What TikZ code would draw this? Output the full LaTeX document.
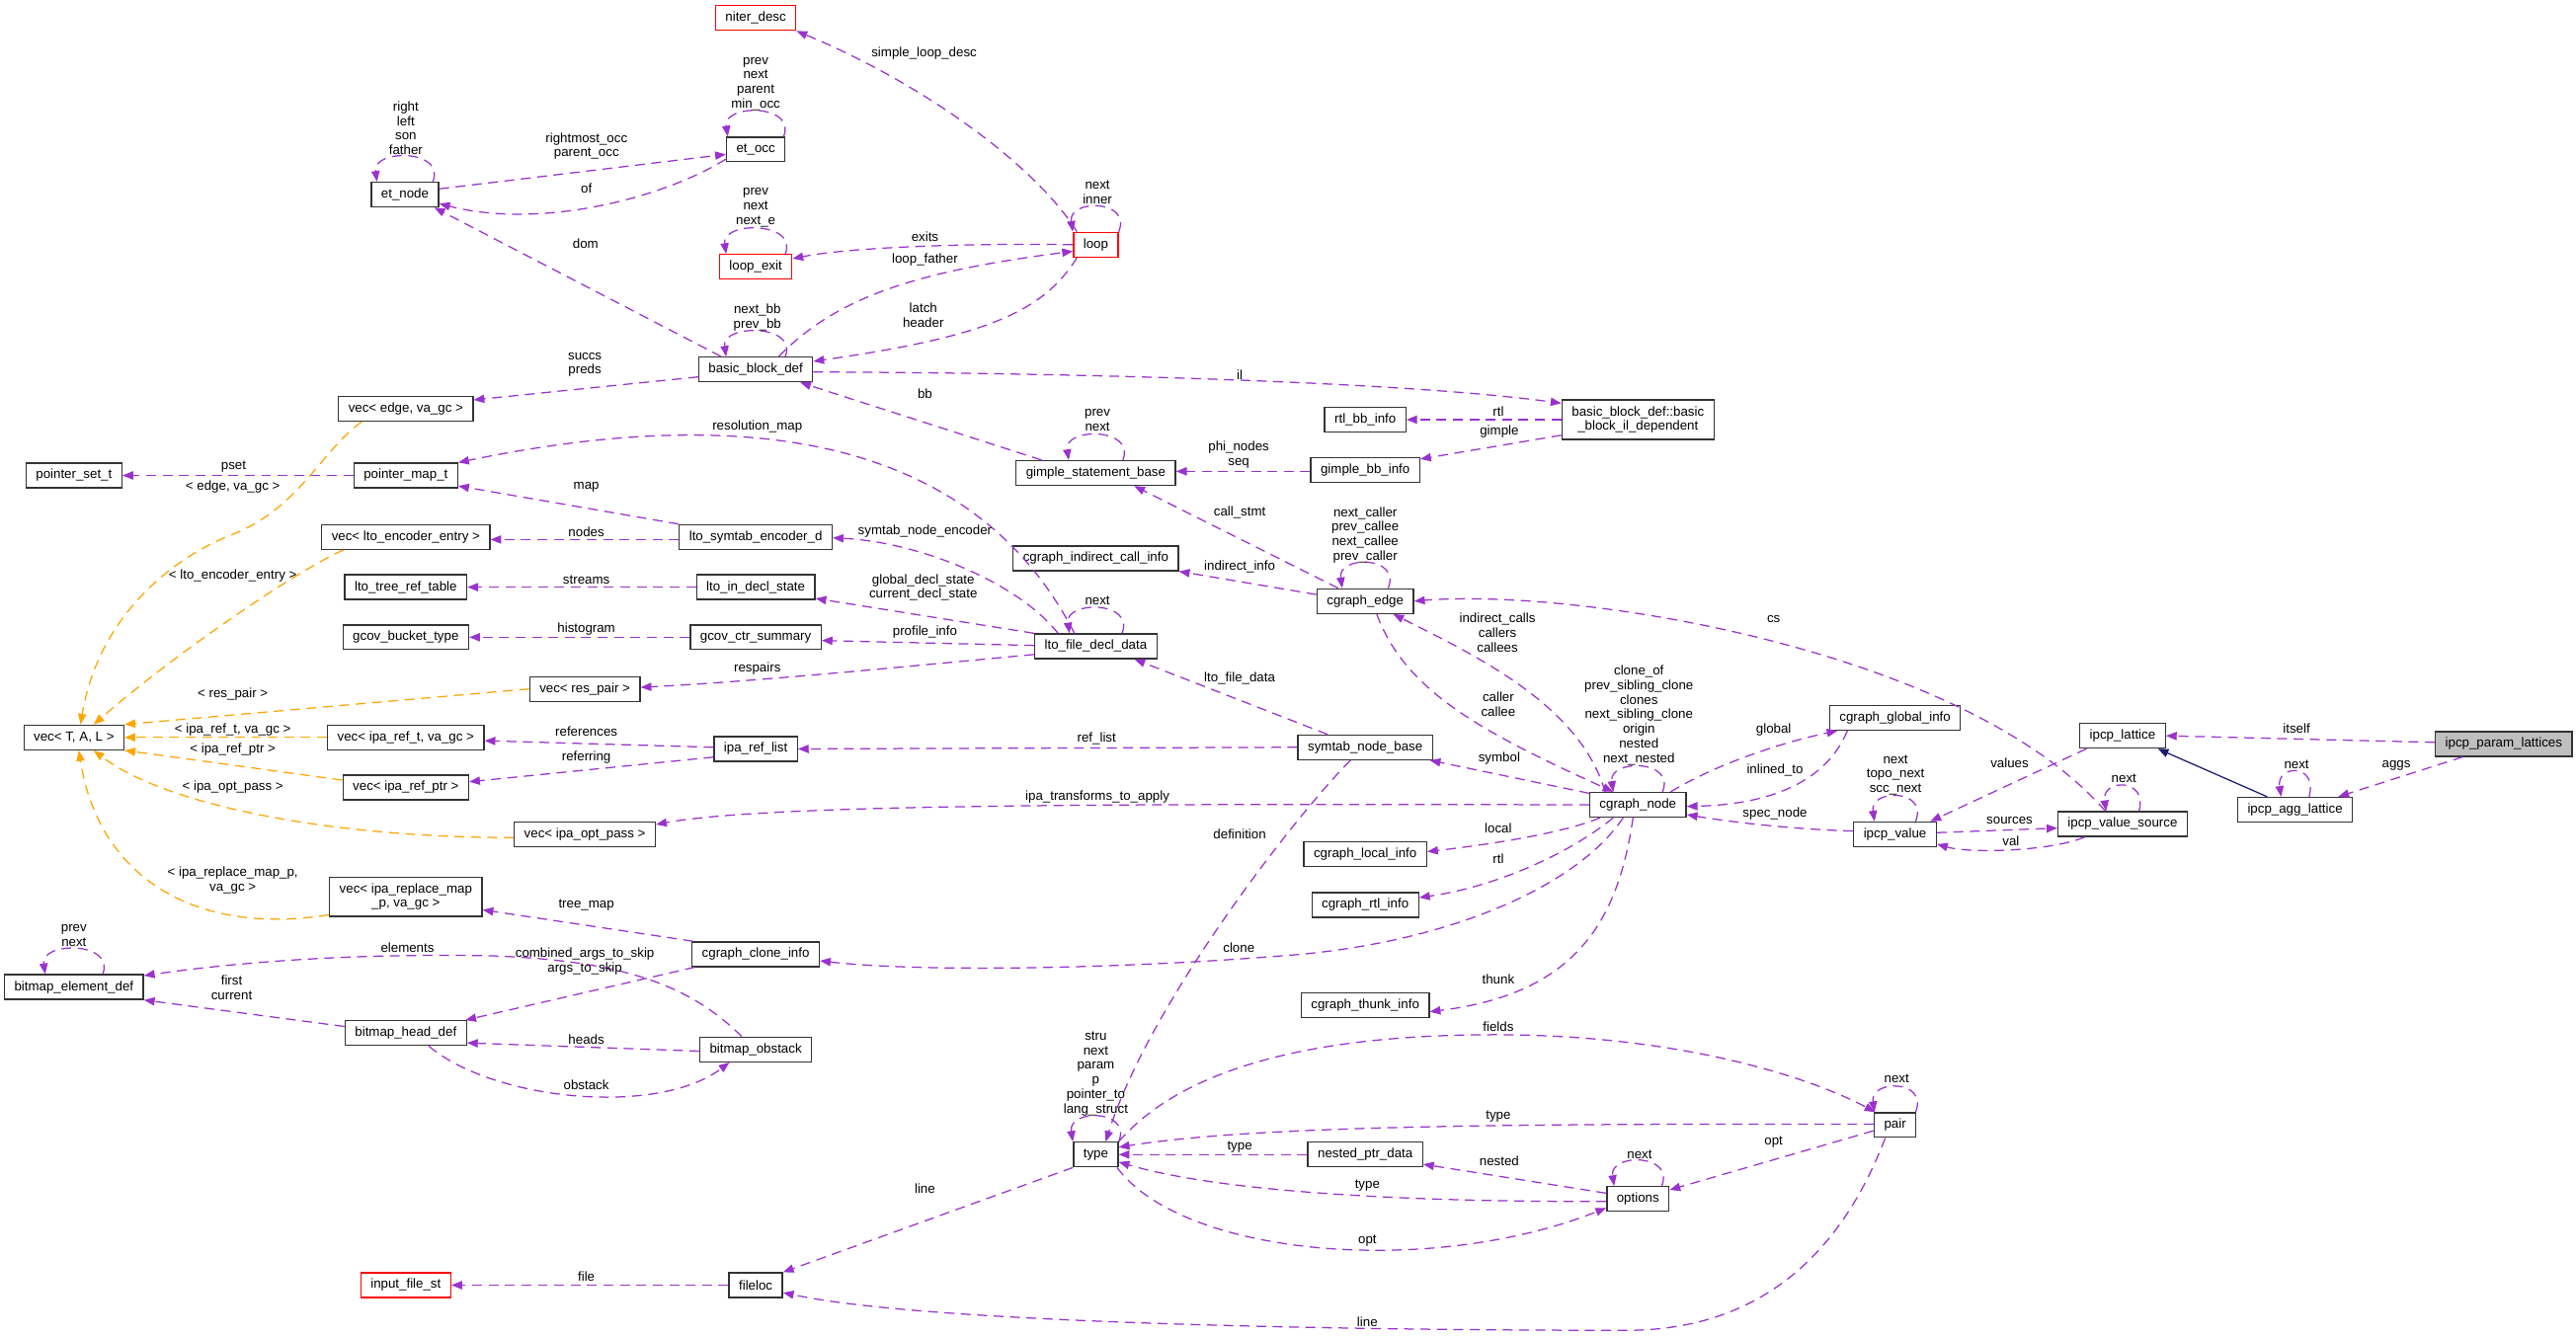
\documentclass[tikz,border=0pt]{standalone}
\usepackage{fontspec}
\setmainfont{Liberation Sans}
\usetikzlibrary{arrows.meta}
\definecolor{gcPurple}{HTML}{9A32CD}
\definecolor{gcOrange}{HTML}{FFA500}
\definecolor{gcNavy}{HTML}{191970}
\definecolor{gcGray}{HTML}{BFBFBF}
\begin{document}
\begin{tikzpicture}[x=1pt,y=-1pt,
    gcBox/.style={draw=black!80,line width=0.8pt,fill=white,font=\fontsize{8}{8.85}\selectfont,inner xsep=6pt,inner ysep=2pt,minimum height=15pt,align=center},
    gcBoxRed/.style={gcBox,draw=red},
    gcBoxMain/.style={gcBox,fill=gcGray},
    gcMember/.style={-{Triangle[length=6.5pt,width=5pt]},gcPurple,dash pattern=on 6pt off 4pt,line width=0.75pt},
    gcTmpl/.style={gcMember,gcOrange},
    gcInherit/.style={-{Triangle[length=6.5pt,width=5pt]},gcNavy,line width=0.75pt},
    gcLabel/.style={font=\fontsize{8}{8.85}\selectfont,inner sep=0pt,align=center},
]
\path[use as bounding box,fill=white] (0,0) rectangle (1568,813);
% Classes
\node[gcBox] (etNode) at (246.5,118.5) {et\_node};
\node[gcBox] (etOcc) at (460,91) {et\_occ};
\node[gcBoxRed] (niterDesc) at (460,11) {niter\_desc};
\node[gcBoxRed] (loopExit) at (460,162.5) {loop\_exit};
\node[gcBoxRed] (loopNode) at (667,149) {loop};
\node[gcBox] (bbDef) at (460,225) {basic\_block\_def};
\node[gcBox,minimum height=24pt] (bbIl) at (997,255.5) {basic\_block\_def::basic\\\_block\_il\_dependent};
\node[gcBox] (rtlBb) at (831,255.5) {rtl\_bb\_info};
\node[gcBox] (gimpleBb) at (831,286) {gimple\_bb\_info};
\node[gcBox] (gsBase) at (667,288) {gimple\_statement\_base};
\node[gcBox] (vecEdge) at (247,249) {vec< edge, va\_gc >};
\node[gcBox] (psetT) at (45,289.5) {pointer\_set\_t};
\node[gcBox] (pmapT) at (247,289.5) {pointer\_map\_t};
\node[gcBox] (vecEnc) at (247,327) {vec< lto\_encoder\_entry >};
\node[gcBox] (treeRef) at (247,357.5) {lto\_tree\_ref\_table};
\node[gcBox] (bucketT) at (247,388) {gcov\_bucket\_type};
\node[gcBox] (vecRes) at (356,419.5) {vec< res\_pair >};
\node[gcBox] (vecTal) at (45,449) {vec< T, A, L >};
\node[gcBox] (vecRef) at (247,449) {vec< ipa\_ref\_t, va\_gc >};
\node[gcBox] (vecRefPtr) at (247,479.5) {vec< ipa\_ref\_ptr >};
\node[gcBox] (vecOpt) at (356,508) {vec< ipa\_opt\_pass >};
\node[gcBox,minimum height=24pt] (vecRepl) at (247,546) {vec< ipa\_replace\_map\\\_p, va\_gc >};
\node[gcBox] (bmElem) at (45,601) {bitmap\_element\_def};
\node[gcBox] (bmHead) at (247,629) {bitmap\_head\_def};
\node[gcBoxRed] (inputFile) at (247,782.5) {input\_file\_st};
\node[gcBox] (encoderD) at (460,327) {lto\_symtab\_encoder\_d};
\node[gcBox] (indirectInfo) at (667,340) {cgraph\_indirect\_call\_info};
\node[gcBox] (inDecl) at (460,357.5) {lto\_in\_decl\_state};
\node[gcBox] (ctrSum) at (460,388) {gcov\_ctr\_summary};
\node[gcBox] (fileDecl) at (667,393.5) {lto\_file\_decl\_data};
\node[gcBox] (refList) at (460,456) {ipa\_ref\_list};
\node[gcBox] (cEdge) at (831,366) {cgraph\_edge};
\node[gcBox] (symBase) at (831,455) {symtab\_node\_base};
\node[gcBox] (cNode) at (997,490) {cgraph\_node};
\node[gcBox] (localInfo) at (831,520) {cgraph\_local\_info};
\node[gcBox] (globalInfo) at (1153.5,437) {cgraph\_global\_info};
\node[gcBox] (ipcpValue) at (1153.5,508) {ipcp\_value};
\node[gcBox] (ipcpLattice) at (1292,448) {ipcp\_lattice};
\node[gcBoxMain] (paramLat) at (1524,453) {ipcp\_param\_lattices};
\node[gcBox] (aggLat) at (1397,493) {ipcp\_agg\_lattice};
\node[gcBox] (valSource) at (1292,501.7) {ipcp\_value\_source};
\node[gcBox] (rtlInfo) at (831,551) {cgraph\_rtl\_info};
\node[gcBox] (thunkInfo) at (831,612) {cgraph\_thunk\_info};
\node[gcBox] (pairNode) at (1153.5,685) {pair};
\node[gcBox] (nestedPtr) at (831,703) {nested\_ptr\_data};
\node[gcBox] (optionsNode) at (997,730) {options};
\node[gcBox] (cloneInfo) at (460,581) {cgraph\_clone\_info};
\node[gcBox] (bmObstack) at (460,639) {bitmap\_obstack};
\node[gcBox] (typeNode) at (667,703) {type};
\node[gcBox] (fileLoc) at (460,782.5) {fileloc};
% et_node and et_occ
\draw[gcMember] ([xshift=17pt]etNode.north) .. controls +(8,-20) and +(-3,-20) .. ([xshift=-17pt]etNode.north);
\draw[gcMember] ([xshift=17pt]etOcc.north) .. controls +(8,-20) and +(-3,-20) .. ([xshift=-17pt]etOcc.north);
\draw[gcMember] ([yshift=3.5pt]etNode.east) -- ([yshift=-3pt]etOcc.west);
\draw[gcMember] ([yshift=2pt]etOcc.south west) .. controls (405,120) and (330,140) .. ([yshift=-5.5pt]etNode.east);
\draw[gcMember] ([xshift=-21pt]bbDef.north) -- ([xshift=-3pt]etNode.south east);
% loop
\draw[gcMember] ([xshift=-11.5pt]loopNode.north) .. controls (630,100) and (560,50) .. (niterDesc.south east);
\draw[gcMember] ([xshift=14pt]loopNode.north) .. controls +(8,-20) and +(-3,-20) .. ([xshift=-14pt]loopNode.north);
\draw[gcMember] (loopNode.west) .. controls (600,148) and (520,150) .. ([yshift=5pt]loopExit.east);
\draw[gcMember] ([xshift=18pt]loopExit.north) .. controls +(8,-20) and +(-3,-20) .. ([xshift=-18pt]loopExit.north);
\draw[gcMember] ([xshift=14pt]bbDef.north) .. controls (510,180) and (560,165) .. ([yshift=-4pt]loopNode.west);
\draw[gcMember] ([xshift=-11.5pt]loopNode.south) .. controls (635,190) and (600,205) .. ([yshift=5pt]bbDef.east);
\draw[gcMember] ([xshift=18pt]bbDef.north) .. controls +(8,-20) and +(-3,-20) .. ([xshift=-18pt]bbDef.north);
% basic blocks
\draw[gcMember] ([yshift=-4.5pt]bbDef.west) -- ([yshift=5.5pt]vecEdge.east);
\draw[gcMember] ([yshift=-1.5pt]bbDef.east) .. controls (650,227) and (850,232) .. ([yshift=10pt]bbIl.west);
\draw[gcMember] (bbIl.west) -- (rtlBb.east);
\draw[gcMember] ([yshift=-9.5pt]bbIl.west) -- ([yshift=6.5pt]gimpleBb.east);
\draw[gcMember] ([xshift=-33pt]gsBase.north) -- ([xshift=-8pt]bbDef.south east);
\draw[gcMember] ([xshift=16.5pt]gsBase.north) .. controls +(8,-20) and +(-3,-20) .. ([xshift=-16.5pt]gsBase.north);
\draw[gcMember] ([yshift=-1pt]gimpleBb.west) -- ([yshift=1pt]gsBase.east);
% cgraph_edge
\draw[gcMember] ([xshift=-16.5pt]cEdge.north) -- ([xshift=-25.5pt]gsBase.south east);
\draw[gcMember] ([yshift=4pt]cEdge.west) -- (indirectInfo.south east);
\draw[gcMember] ([xshift=14pt]cEdge.north) .. controls +(8,-20) and +(-3,-20) .. ([xshift=-14pt]cEdge.north);
\draw[gcMember] ([xshift=-20pt]cNode.north) .. controls (962,430) and (900,400) .. ([xshift=17pt]cEdge.south);
\draw[gcMember] ([xshift=7pt]cEdge.south) .. controls (855,420) and (900,445) .. ([xshift=-15pt]cNode.north);
\draw[gcMember] ([xshift=-10.5pt]valSource.north) .. controls (1195,395) and (960,358) .. (cEdge.east);
% cgraph_node
\draw[gcMember] ([xshift=15pt]cNode.north) .. controls +(8,-20) and +(-3,-20) .. ([xshift=-15pt]cNode.north);
\draw[gcMember] ([xshift=20pt]cNode.north) .. controls (1045,465) and (1085,452) .. ([xshift=-35pt]globalInfo.south);
\draw[gcMember] ([xshift=-29pt]globalInfo.south) .. controls (1110,480) and (1070,490) .. ([yshift=-1pt]cNode.east);
\draw[gcMember] ([yshift=2pt]ipcpValue.west) .. controls (1090,505) and (1050,500) .. ([yshift=-6pt]cNode.east);
\draw[gcMember] ([yshift=7pt]cNode.west) -- ([xshift=-2pt]symBase.south east);
\draw[gcMember] (cNode.west) .. controls (700,489.5) and (470,489) .. ([yshift=6pt]vecOpt.east);
\draw[gcMember] ([xshift=-23pt]cNode.south) .. controls (950,508) and (900,515) .. ([yshift=1.5pt]localInfo.east);
\draw[gcMember] ([xshift=-15pt]cNode.south) .. controls (955,520) and (910,540) .. ([yshift=4.5pt]rtlInfo.east);
\draw[gcMember] ([xshift=-9pt]cNode.south) .. controls (960,540) and (880,575) .. (780,582) .. controls (680,590) and (560,592) .. ([yshift=-4pt]cloneInfo.east);
\draw[gcMember] ([xshift=-3pt]cNode.south) .. controls (985,560) and (960,605) .. ([yshift=-4pt]thunkInfo.east);
% ipcp lattices
\draw[gcMember] ([xshift=12.5pt]ipcpValue.north) .. controls +(8,-20) and +(-3,-20) .. ([xshift=-12.5pt]ipcpValue.north);
\draw[gcMember] ([xshift=-22pt]ipcpLattice.south) -- ([xshift=-4pt]ipcpValue.north east);
\draw[gcMember] ([yshift=1pt]ipcpValue.east) -- ([yshift=-2.5pt]valSource.west);
\draw[gcMember] ([xshift=-23pt]valSource.south) .. controls (1250,518) and (1200,520) .. ([yshift=-6pt]ipcpValue.east);
\draw[gcMember] ([xshift=10pt]valSource.north) .. controls +(6,-20) and +(-3,-20) .. ([xshift=-10pt]valSource.north);
\draw[gcMember] ([yshift=1pt]paramLat.west) -- (ipcpLattice.east);
\draw[gcMember] ([xshift=-25pt]paramLat.south) -- ([xshift=-9pt]aggLat.north east);
\draw[gcInherit] ([xshift=-17pt]aggLat.north) -- ([xshift=-5pt]ipcpLattice.south east);
\draw[gcMember] ([xshift=8.5pt]aggLat.north) .. controls +(6,-20) and +(-3,-20) .. ([xshift=-8.5pt]aggLat.north);
% symtab and lto data
\draw[gcMember] (symBase.west) -- (refList.east);
\draw[gcMember] ([xshift=-23pt]symBase.north) -- ([xshift=-14pt]fileDecl.south east);
\draw[gcMember] ([xshift=-9pt]symBase.south) .. controls (790,495) and (700,610) .. ([xshift=6pt]typeNode.north);
\draw[gcMember] ([xshift=16pt]fileDecl.north) .. controls +(8,-20) and +(-3,-20) .. ([xshift=-16pt]fileDecl.north);
\draw[gcMember] ([xshift=-23pt]fileDecl.north) .. controls (620,355) and (560,330) .. ([yshift=-0.5pt]encoderD.east);
\draw[gcMember] (fileDecl.north west) -- ([yshift=1pt]inDecl.south east);
\draw[gcMember] ([yshift=0.5pt]fileDecl.west) -- ([yshift=-2pt]ctrSum.east);
\draw[gcMember] ([yshift=-5pt]fileDecl.west) .. controls (560,405) and (460,415) .. ([yshift=1pt]vecRes.east);
\draw[gcMember] ([xshift=-13pt]fileDecl.north) .. controls (600,280) and (480,240) .. (pmapT.north east);
\draw[gcMember] (encoderD.north west) -- ([yshift=1.5pt]pmapT.south east);
\draw[gcMember] ([yshift=-1.5pt]encoderD.west) -- ([yshift=-1.5pt]vecEnc.east);
\draw[gcMember] (inDecl.west) -- (treeRef.east);
\draw[gcMember] (ctrSum.west) -- (bucketT.east);
\draw[gcMember] (pmapT.west) -- (psetT.east);
\draw[gcMember] ([yshift=1pt]refList.west) -- ([yshift=-2pt]vecRef.east);
\draw[gcMember] ([yshift=-5pt]refList.west) -- ([yshift=3.5pt]vecRefPtr.east);
% template instances
\draw[gcTmpl] ([xshift=-27pt]vecEdge.south) .. controls (195,275) and (182,310) .. (140,326) .. controls (105,340) and (60,375) .. ([xshift=4pt]vecTal.north);
\draw[gcTmpl] ([xshift=-38pt]vecEnc.south) .. controls (185,345) and (110,395) .. ([xshift=12pt]vecTal.north);
\draw[gcTmpl] (vecRes.west) -- (vecTal.north east);
\draw[gcTmpl] (vecRef.west) -- (vecTal.east);
\draw[gcTmpl] ([yshift=4.5pt]vecRefPtr.west) -- (vecTal.south east);
\draw[gcTmpl] ([yshift=-2pt]vecOpt.west) .. controls (200,510) and (100,490) .. ([xshift=12pt]vecTal.south);
\draw[gcTmpl] ([yshift=-11pt]vecRepl.west) .. controls (120,570) and (60,535) .. ([xshift=3pt]vecTal.south);
% clones and bitmaps
\draw[gcMember] ([xshift=1pt]cloneInfo.north west) -- ([yshift=-8pt]vecRepl.east);
\draw[gcMember] ([xshift=2pt]cloneInfo.south west) -- ([xshift=-1pt]bmHead.north east);
\draw[gcMember] ([yshift=4pt]bmHead.west) -- (bmElem.south east);
\draw[gcMember] ([xshift=17.5pt]bmElem.north) .. controls +(8,-20) and +(-3,-20) .. ([xshift=-17.5pt]bmElem.north);
\draw[gcMember] ([xshift=-8.5pt]bmObstack.north) .. controls (420,600) and (380,585) .. (300,582) .. controls (200,580) and (130,588) .. ([yshift=7pt]bmElem.east);
\draw[gcMember] ([yshift=-1pt]bmObstack.west) -- ([yshift=-6pt]bmHead.east);
\draw[gcMember] ([xshift=14pt]bmHead.south) .. controls (300,670) and (400,680) .. ([xshift=-16pt]bmObstack.south);
% type, pair, options
\draw[gcMember] ([xshift=14pt]typeNode.north) .. controls +(8,-20) and +(-3,-20) .. ([xshift=-14pt]typeNode.north);
\draw[gcMember] ([yshift=0.5pt]pairNode.west) .. controls (900,684) and (760,686) .. ([yshift=4.5pt]typeNode.east);
\draw[gcMember] (typeNode.north east) .. controls (720,650) and (800,630) .. (910,630) .. controls (1020,630) and (1100,655) .. ([xshift=1pt]pairNode.north west);
\draw[gcMember] ([xshift=12.5pt]pairNode.north) .. controls +(8,-20) and +(-3,-20) .. ([xshift=-12.5pt]pairNode.north);
\draw[gcMember] ([yshift=-3.5pt]pairNode.west) -- ([yshift=5.5pt]optionsNode.east);
\draw[gcMember] ([xshift=-6pt]pairNode.south) .. controls (1120,765) and (1070,810) .. (990,810) .. controls (800,810) and (560,805) .. ([yshift=-4.5pt]fileLoc.east);
\draw[gcMember] (nestedPtr.west) -- (typeNode.east);
\draw[gcMember] ([yshift=3.5pt]optionsNode.west) -- ([yshift=2pt]nestedPtr.south east);
\draw[gcMember] ([yshift=-1.5pt]optionsNode.west) .. controls (850,732) and (740,725) .. ([yshift=-4.5pt]typeNode.east);
\draw[gcMember] ([xshift=-1pt]typeNode.south east) .. controls (720,765) and (870,778) .. ([yshift=-5.5pt]optionsNode.west);
\draw[gcMember] ([xshift=14.5pt]optionsNode.north) .. controls +(8,-20) and +(-3,-20) .. ([xshift=-14.5pt]optionsNode.north);
\draw[gcMember] (typeNode.south west) -- (fileLoc.north east);
\draw[gcMember] (fileLoc.west) -- (inputFile.east);
% Labels
\node[gcLabel] (lEtLoop) at (247,78) {right\\left\\son\\father};
\node[gcLabel] (lRightmost) at (357,89) {rightmost\_occ\\parent\_occ};
\node[gcLabel] (lOf) at (357,114.7) {of};
\node[gcLabel] (lDom) at (356.4,148.3) {dom};
\node[gcLabel] (lSuccs) at (356,222) {succs\\preds};
\node[gcLabel] (lSimple) at (562.5,32.7) {simple\_loop\_desc};
\node[gcLabel] (lOccLoop) at (460,51) {prev\\next\\parent\\min\_occ};
\node[gcLabel] (lExitLoop) at (460,126.5) {prev\\next\\next\_e};
\node[gcLabel] (lExits) at (563,144) {exits};
\node[gcLabel] (lLoopFather) at (563,158.3) {loop\_father};
\node[gcLabel] (lLoopLoop) at (668,117) {next\\inner};
\node[gcLabel] (lBbLoop) at (461,193.3) {next\_bb\\prev\_bb};
\node[gcLabel] (lLatch) at (562,192) {latch\\header};
\node[gcLabel] (lIl) at (754.6,228.5) {il};
\node[gcLabel] (lBb) at (563,240) {bb};
\node[gcLabel] (lGsLoop) at (668,256) {prev\\next};
\node[gcLabel] (lPhi) at (754,276.8) {phi\_nodes\\seq};
\node[gcLabel] (lRtlBb) at (912,250.6) {rtl};
\node[gcLabel] (lGimple) at (912.6,262.6) {gimple};
\node[gcLabel] (lPset) at (142.2,284.2) {pset};
\node[gcLabel] (lEdgeGc) at (141.7,296.7) {< edge, va\_gc >};
\node[gcLabel] (lMap) at (356.9,296.3) {map};
\node[gcLabel] (lNodes) at (356.9,323.9) {nodes};
\node[gcLabel] (lEncEntry) at (141.7,350.4) {< lto\_encoder\_entry >};
\node[gcLabel] (lStreams) at (356.9,352.8) {streams};
\node[gcLabel] (lHisto) at (356.9,382.9) {histogram};
\node[gcLabel] (lResPair) at (141.7,422.7) {< res\_pair >};
\node[gcLabel] (lRefGc) at (141.7,444.4) {< ipa\_ref\_t, va\_gc >};
\node[gcLabel] (lRefs) at (356.9,445.4) {references};
\node[gcLabel] (lRefPtr) at (141.7,456.4) {< ipa\_ref\_ptr >};
\node[gcLabel] (lReferring) at (356.9,461.2) {referring};
\node[gcLabel] (lOptPass) at (141.7,479.5) {< ipa\_opt\_pass >};
\node[gcLabel] (lReplMap) at (141.7,536) {< ipa\_replace\_map\_p,\\va\_gc >};
\node[gcLabel] (lEncoder) at (563,323.7) {symtab\_node\_encoder};
\node[gcLabel] (lDeclState) at (562,357.8) {global\_decl\_state\\current\_decl\_state};
\node[gcLabel] (lProfile) at (563,385) {profile\_info};
\node[gcLabel] (lFdLoop) at (668,366) {next};
\node[gcLabel] (lRespairs) at (461,407) {respairs};
\node[gcLabel] (lResMap) at (461,259.5) {resolution\_map};
\node[gcLabel] (lCallStmt) at (754.6,311.9) {call\_stmt};
\node[gcLabel] (lIndirect) at (754.6,345.4) {indirect\_info};
\node[gcLabel] (lLtoFile) at (754.6,413.3) {lto\_file\_data};
\node[gcLabel] (lRefList) at (667.5,450) {ref\_list};
\node[gcLabel] (lTransforms) at (668,485.1) {ipa\_transforms\_to\_apply};
\node[gcLabel] (lDefinition) at (754.6,507.7) {definition};
\node[gcLabel] (lCeLoop) at (831,325.7) {next\_caller\\prev\_callee\\next\_callee\\prev\_caller};
\node[gcLabel] (lCs) at (1079.6,376.8) {cs};
\node[gcLabel] (lCalls) at (911.5,385.3) {indirect\_calls\\callers\\callees};
\node[gcLabel] (lCaller) at (912,429) {caller\\callee};
\node[gcLabel] (lCnLoop) at (997.6,435.5) {clone\_of\\prev\_sibling\_clone\\clones\\next\_sibling\_clone\\origin\\nested\\next\_nested};
\node[gcLabel] (lSymbol) at (912.6,462) {symbol};
\node[gcLabel] (lGlobal) at (1079.6,444.6) {global};
\node[gcLabel] (lInlined) at (1080.4,469) {inlined\_to};
\node[gcLabel] (lSpec) at (1080.4,495.7) {spec\_node};
\node[gcLabel] (lValLoop) at (1153.8,471.9) {next\\topo\_next\\scc\_next};
\node[gcLabel] (lLocal) at (912,504.5) {local};
\node[gcLabel] (lRtl) at (912,523.2) {rtl};
\node[gcLabel] (lItself) at (1397.9,443.6) {itself};
\node[gcLabel] (lValues) at (1223.2,464.4) {values};
\node[gcLabel] (lAggLoop) at (1397.9,465.6) {next};
\node[gcLabel] (lAggs) at (1458.6,466.4) {aggs};
\node[gcLabel] (lSrcLoop) at (1292.8,474.1) {next};
\node[gcLabel] (lSources) at (1223.2,499.5) {sources};
\node[gcLabel] (lVal) at (1224,512.1) {val};
\node[gcLabel] (lTreeMap) at (356.9,551.2) {tree\_map};
\node[gcLabel] (lElemLoop) at (45,569.7) {prev\\next};
\node[gcLabel] (lElements) at (248,577.3) {elements};
\node[gcLabel] (lArgs) at (356,585.5) {combined\_args\_to\_skip\\args\_to\_skip};
\node[gcLabel] (lFirst) at (141,601.5) {first\\current};
\node[gcLabel] (lHeads) at (356.9,633) {heads};
\node[gcLabel] (lObstack) at (356.9,660.7) {obstack};
\node[gcLabel] (lFile) at (356.9,777.1) {file};
\node[gcLabel] (lClone) at (754.1,576.9) {clone};
\node[gcLabel] (lTypeLoop) at (667,653.7) {stru\\next\\param\\p\\pointer\_to\\lang\_struct};
\node[gcLabel] (lTypeNested) at (754.6,698.2) {type};
\node[gcLabel] (lLineType) at (563,723.6) {line};
\node[gcLabel] (lThunk) at (912,596) {thunk};
\node[gcLabel] (lFields) at (912,625) {fields};
\node[gcLabel] (lPairLoop) at (1154.5,656.9) {next};
\node[gcLabel] (lTypePair) at (912,680) {type};
\node[gcLabel] (lOptPair) at (1079.6,695.6) {opt};
\node[gcLabel] (lOptLoop) at (998,702.8) {next};
\node[gcLabel] (lNested) at (912.6,706.8) {nested};
\node[gcLabel] (lTypeOpt) at (832.3,722) {type};
\node[gcLabel] (lOptType) at (832.3,755.7) {opt};
\node[gcLabel] (lLinePair) at (832.3,804.8) {line};
\end{tikzpicture}
\end{document}
